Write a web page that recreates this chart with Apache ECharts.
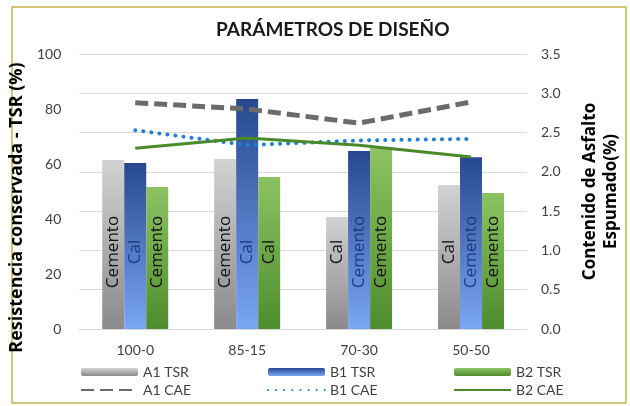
<!DOCTYPE html>
<html>
<head>
<meta charset="utf-8">
<script src="https://cdn.jsdelivr.net/npm/echarts@6/dist/echarts.min.js"></script>
<style>
  html, body { margin: 0; padding: 0; background: #fff; }
  #chart { width: 630px; height: 406px; }
</style>
</head>
<body>
<div id="chart"></div>
<script>
// datos
var categorias = ['100-0', '85-15', '70-30', '50-50'];

// TSR (%) - eje izquierdo
var a1Tsr = [61.5, 61.8, 40.7, 52.4];
var b1Tsr = [60.4, 83.6, 64.7, 62.5];
var b2Tsr = [51.6, 55.3, 65.8, 49.5];

// CAE (%) - eje derecho
var a1Cae = [2.88, 2.80, 2.62, 2.89];
var b1Cae = [2.53, 2.34, 2.40, 2.42];
var b2Cae = [2.30, 2.43, 2.34, 2.19];

// textos dentro de las barras
var a1Etiquetas = ['Cemento', 'Cemento', 'Cal', 'Cal'];
var b1Etiquetas = ['Cal', 'Cal', 'Cemento', 'Cemento'];
var b2Etiquetas = ['Cemento', 'Cal', 'Cemento', 'Cemento'];

var fuente = 'Lato';
var fuenteNegrita = 'Open Sans';

var chart = echarts.init(document.getElementById('chart'));

function degradado(arriba, abajo) {
    return new echarts.graphic.LinearGradient(0, 0, 0, 1, [
        { offset: 0, color: arriba },
        { offset: 1, color: abajo }
    ]);
}

function etiquetaBarra(textos, color) {
    return {
        show: true,
        position: 'insideBottom',
        distance: 77,
        rotate: 90,
        align: 'center',
        verticalAlign: 'middle',
        fontFamily: fuenteNegrita,
        fontSize: 17,
        color: color,
        formatter: function (p) { return textos[p.dataIndex]; }
    };
}

var textoEje = { color: '#404040', fontFamily: fuente, fontSize: 14 };

var leyendaBase = {
    orient: 'vertical',
    top: 365,
    padding: 0,
    itemWidth: 57,
    itemHeight: 8,
    itemGap: 4,
    textStyle: textoEje
};

// en la leyenda las series de linea se muestran sin simbolo
function itemLinea(nombre) {
    return { name: nombre, itemStyle: { opacity: 0 } };
}

var option = {
    backgroundColor: '#fff',
    title: {
        text: 'PARÁMETROS DE DISEÑO',
        left: 211,
        top: 15,
        textStyle: { fontFamily: fuente, fontSize: 19, fontWeight: 'bold', color: '#1a1a1a' }
    },
    graphic: [{
        type: 'rect',
        shape: { x: 12, y: 7, width: 614, height: 396 },
        style: { fill: 'none', stroke: '#c4b447', lineWidth: 1.5 },
        silent: true
    }],
    legend: [
        Object.assign({ left: 80, data: ['A1 TSR', itemLinea('A1 CAE')] }, leyendaBase),
        Object.assign({ left: 267, data: ['B1 TSR', itemLinea('B1 CAE')] }, leyendaBase),
        Object.assign({ left: 453, data: ['B2 TSR', itemLinea('B2 CAE')] }, leyendaBase)
    ],
    grid: { left: 75, right: 103, top: 54, bottom: 77 },
    xAxis: {
        type: 'category',
        data: categorias,
        axisTick: { show: false },
        axisLine: { lineStyle: { color: '#d9d9d9' } },
        axisLabel: Object.assign({ margin: 14 }, textoEje)
    },
    yAxis: [{
        type: 'value',
        min: 0,
        max: 100,
        interval: 20,
        splitLine: { show: false },
        axisLabel: Object.assign({ margin: 18 }, textoEje),
        name: 'Resistencia conservada - TSR (%)',
        nameLocation: 'middle',
        nameRotate: 90,
        nameGap: 36,
        nameTextStyle: { fontFamily: fuenteNegrita, fontSize: 18, fontWeight: 'bold', color: '#000', padding: [0, 32, 0, 0] }
    }, {
        type: 'value',
        min: 0,
        max: 3.5,
        interval: 0.5,
        splitLine: { lineStyle: { color: '#d9d9d9' } },
        axisLabel: Object.assign({
            margin: 14,
            formatter: function (v) { return v.toFixed(1); }
        }, textoEje),
        name: 'Contenido de Asfalto\nEspumado(%)',
        nameLocation: 'middle',
        nameRotate: 90,
        nameGap: 53,
        nameTextStyle: { fontFamily: fuenteNegrita, fontSize: 17, fontWeight: 'bold', color: '#000', lineHeight: 21 }
    }],
    series: [
        {
            name: 'A1 TSR', type: 'bar', yAxisIndex: 0,
            barWidth: 22, barGap: 0,
            data: a1Tsr,
            itemStyle: { color: degradado('#d2d2d2', '#8a8a8a') },
            label: etiquetaBarra(a1Etiquetas, '#111')
        },
        {
            name: 'B1 TSR', type: 'bar', yAxisIndex: 0,
            barWidth: 22, barGap: 0,
            data: b1Tsr,
            itemStyle: { color: degradado('#27488f', '#7aa6f2') },
            label: etiquetaBarra(b1Etiquetas, '#1c3a86')
        },
        {
            name: 'B2 TSR', type: 'bar', yAxisIndex: 0,
            barWidth: 22, barGap: 0,
            data: b2Tsr,
            itemStyle: { color: degradado('#8cc262', '#4f8c2f') },
            label: etiquetaBarra(b2Etiquetas, '#111')
        },
        {
            name: 'A1 CAE', type: 'line', yAxisIndex: 1,
            data: a1Cae, symbol: 'none',
            itemStyle: { color: '#6b6b6b' },
            lineStyle: { color: '#6b6b6b', width: 5, type: [13, 6] }
        },
        {
            name: 'B1 CAE', type: 'line', yAxisIndex: 1,
            data: b1Cae, symbol: 'none',
            itemStyle: { color: '#1f7fd6' },
            lineStyle: { color: '#1f7fd6', width: 4, type: [0.1, 8], cap: 'round' }
        },
        {
            name: 'B2 CAE', type: 'line', yAxisIndex: 1,
            data: b2Cae, symbol: 'none',
            itemStyle: { color: '#4a8a2a' },
            lineStyle: { color: '#4a8a2a', width: 3 }
        }
    ]
};

chart.setOption(option);
</script>
</body>
</html>
